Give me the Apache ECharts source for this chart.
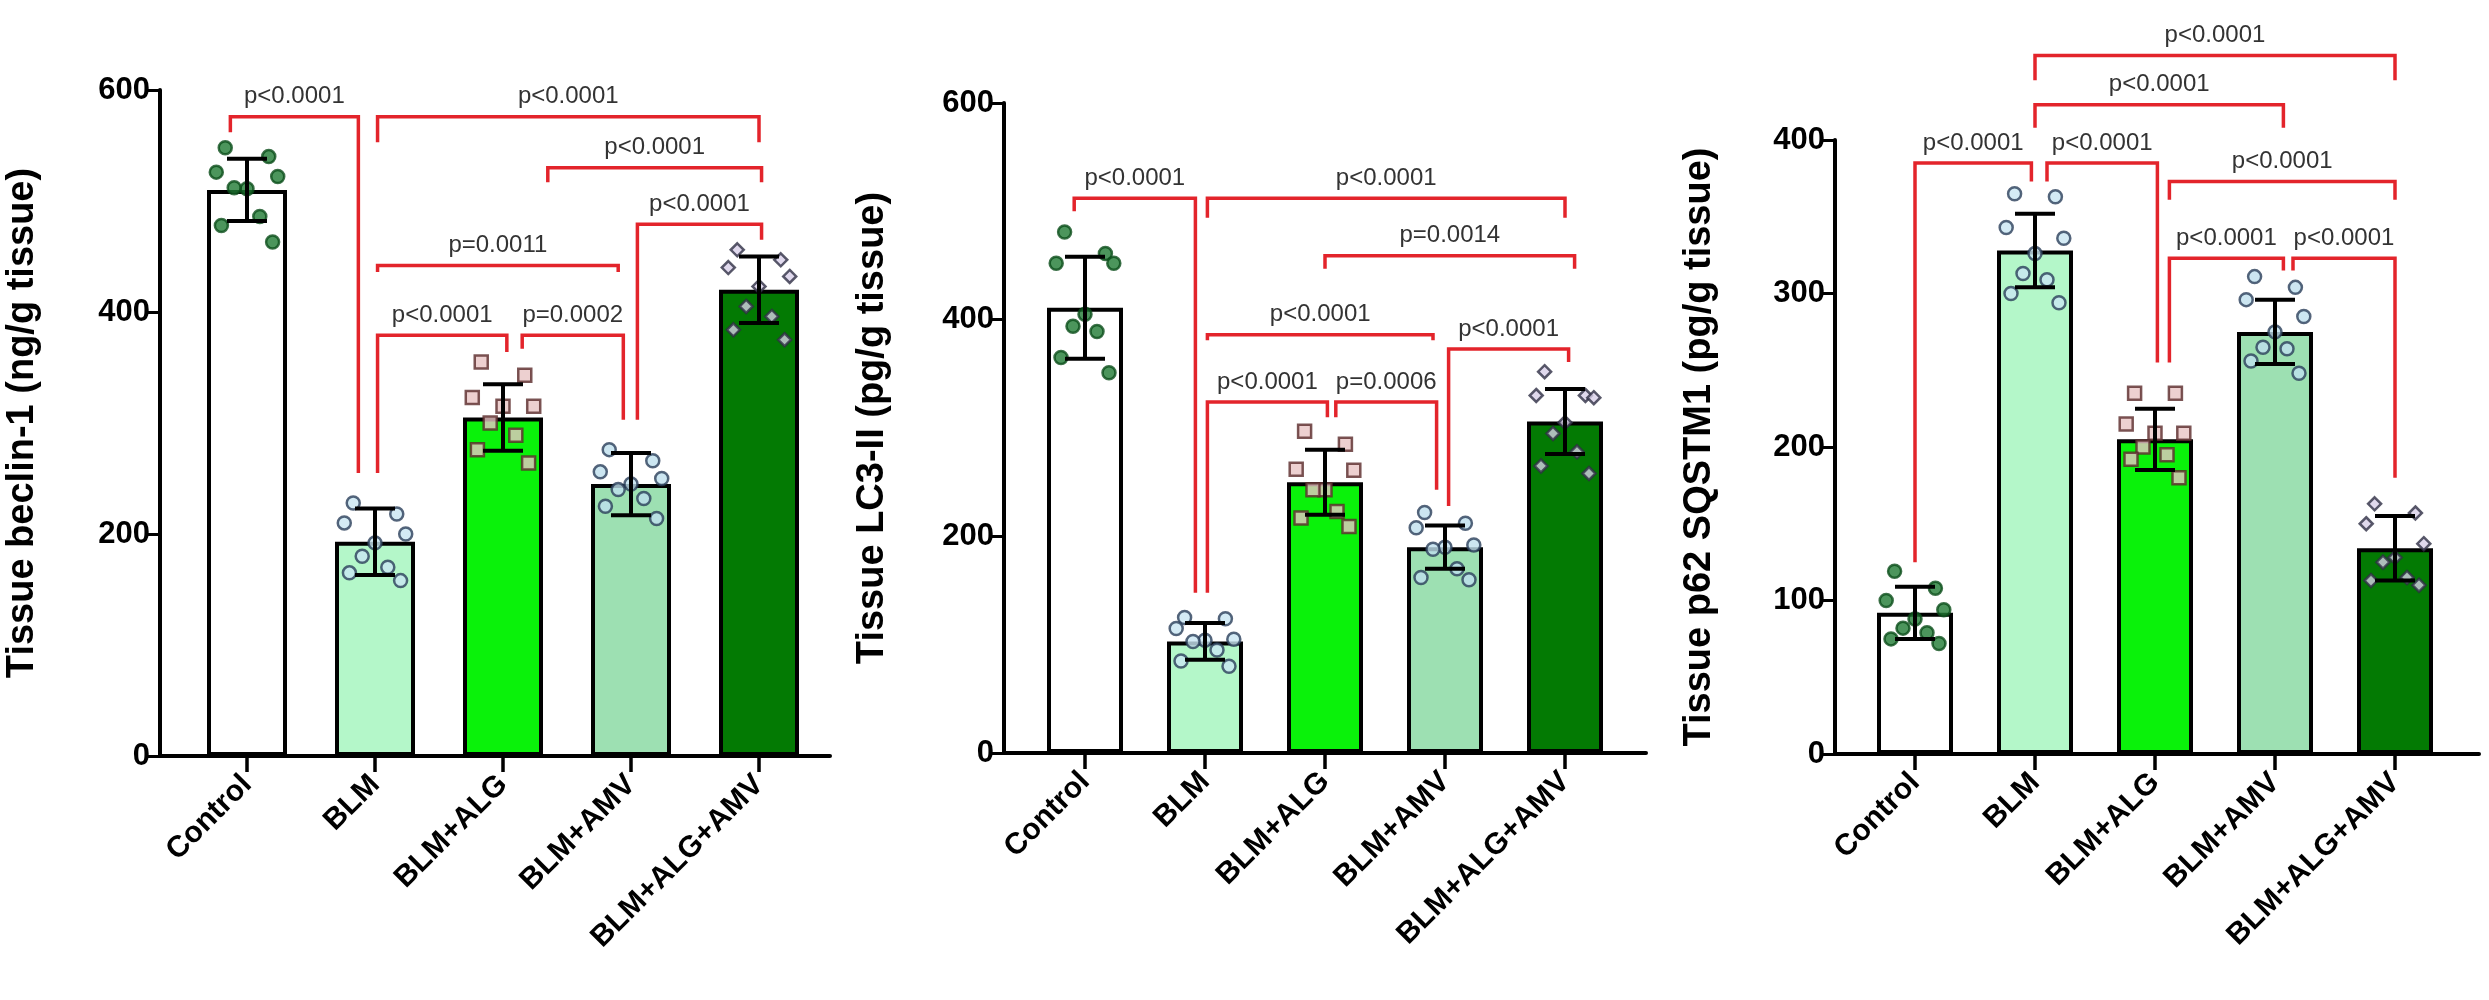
<!DOCTYPE html>
<html lang="en">
<head>
<meta charset="UTF-8">
<title>Autophagy markers</title>
<script src="https://cdn.jsdelivr.net/npm/echarts@6/dist/echarts.min.js"></script>
<style>html,body{margin:0;background:#fff}</style>
</head>
<body>
<div id="chart" style="width:2489px;height:1000px;"></div>
<script type="text/javascript">
// groups
var groups = ['Control', 'BLM', 'BLM+ALG', 'BLM+AMV', 'BLM+ALG+AMV'];

// beclin-1 (ng/g tissue)
var beclinMean = [510, 193, 305, 245, 420];
var beclinSd = [28, 30, 30, 28, 30];
var beclinPts = [
  [548, 540, 526, 522, 511, 512, 486, 478, 463],
  [228, 218, 210, 200, 192, 180, 170, 165, 158],
  [355, 343, 323, 315, 315, 300, 289, 276, 264],
  [276, 266, 256, 250, 245, 240, 232, 225, 214],
  [456, 447, 440, 432, 423, 405, 396, 384, 375]
];
// [from, to, top, leftLeg, rightLeg]
var beclinBr = [
  [-0.13, 0.87, 576, 562, 255],
  [1.02, 4.0, 576, 553, 553],
  [2.35, 4.02, 530, 517, 517],
  [3.05, 4.02, 479, 303, 465],
  [1.02, 2.9, 442, 436, 436],
  [1.02, 2.03, 379, 255, 364],
  [2.15, 2.94, 379, 367, 303]
];
var beclinP = ['p<0.0001', 'p<0.0001', 'p<0.0001', 'p<0.0001', 'p=0.0011', 'p<0.0001', 'p=0.0002'];

// LC3-II (pg/g tissue)
var lc3Mean = [411, 103, 250, 190, 306];
var lc3Sd = [47, 17, 30, 20, 30];
var lc3Pts = [
  [481, 461, 452, 452, 405, 394, 389, 365, 351],
  [125, 124, 115, 105, 104, 103, 95, 85, 80],
  [297, 285, 262, 261, 243, 243, 223, 217, 209],
  [222, 212, 208, 192, 190, 188, 170, 162, 160],
  [352, 330, 330, 328, 305, 295, 278, 265, 258]
];
var lc3Br = [
  [-0.09, 0.92, 512, 500, 148],
  [1.02, 4.0, 512, 494, 494],
  [2.0, 4.08, 459, 447, 447],
  [1.02, 2.9, 386, 381, 381],
  [3.03, 4.03, 373, 228, 361],
  [1.02, 2.02, 324, 148, 310],
  [2.09, 2.93, 324, 310, 243]
];
var lc3P = ['p<0.0001', 'p<0.0001', 'p=0.0014', 'p<0.0001', 'p<0.0001', 'p<0.0001', 'p=0.0006'];

// p62 SQSTM1 (pg/g tissue)
var p62Mean = [92, 328, 205, 275, 134];
var p62Sd = [17, 24, 20, 21, 21];
var p62Pts = [
  [119, 108, 100, 94, 88, 82, 79, 75, 72],
  [365, 363, 343, 336, 326, 313, 309, 300, 294],
  [235, 235, 215, 209, 209, 200, 195, 192, 180],
  [311, 304, 296, 285, 275, 265, 264, 256, 248],
  [163, 157, 150, 137, 128, 125, 115, 113, 110]
];
var p62Br = [
  [1.0, 4.0, 455, 439, 439],
  [1.0, 3.07, 423, 408, 408],
  [0.0, 0.97, 385, 125, 373],
  [1.1, 2.02, 385, 373, 255],
  [2.12, 4.0, 373, 361, 361],
  [2.12, 3.07, 323, 255, 315],
  [3.15, 4.0, 323, 315, 180]
];
var p62P = ['p<0.0001', 'p<0.0001', 'p<0.0001', 'p<0.0001', 'p<0.0001', 'p<0.0001', 'p<0.0001'];

var barColors = ['#ffffff', '#b4f7c9', '#0af20a', '#9de0b2', '#037a03'];
var ptStyle = [
  {symbol: 'circle', fill: '#1f7a33', border: '#0b4d1a'},
  {symbol: 'circle', fill: '#c9e6f2', border: '#2b3f5a'},
  {symbol: 'rect', fill: '#e9c4c4', border: '#5a2a2a'},
  {symbol: 'circle', fill: '#bfe0ee', border: '#2b3f5a'},
  {symbol: 'diamond', fill: '#d8d0e8', border: '#2f2f45'}
];
var jitter = [-0.17, 0.17, -0.24, 0.24, 0, -0.1, 0.1, -0.2, 0.2];

var panels = [
  {title: 'Tissue beclin-1 (ng/g tissue)', mean: beclinMean, sd: beclinSd, pts: beclinPts, br: beclinBr, p: beclinP,
   axisX: 160, end: 830, top: 90, bot: 756, band: 183, bandW: 640, max: 600, step: 200, gap: 118, barW: 80},
  {title: 'Tissue LC3-II (pg/g tissue)', mean: lc3Mean, sd: lc3Sd, pts: lc3Pts, br: lc3Br, p: lc3P,
   axisX: 1004, end: 1646, top: 103, bot: 753, band: 1025, bandW: 600, max: 600, step: 200, gap: 112, barW: 76},
  {title: 'Tissue p62 SQSTM1 (pg/g tissue)', mean: p62Mean, sd: p62Sd, pts: p62Pts, br: p62Br, p: p62P,
   axisX: 1835, end: 2479, top: 140, bot: 754, band: 1855, bandW: 600, max: 400, step: 100, gap: 116, barW: 76}
];

var H = 1000;
var grid = [], xAxis = [], yAxis = [], series = [];
var boldFont = 'Liberation Sans, Arial, sans-serif';
var narrowFont = 'Liberation Sans Narrow, Liberation Sans, Arial, sans-serif';

panels.forEach(function (c, p) {
  grid.push({left: c.axisX, width: c.end - c.axisX, top: c.top, bottom: H - c.bot});
  grid.push({left: c.band, width: c.bandW, top: c.top, bottom: H - c.bot});
  // outer x line
  xAxis.push({type: 'value', gridIndex: 2 * p, min: 0, max: 1,
    axisLine: {show: true, lineStyle: {color: '#000', width: 4}},
    axisTick: {show: false}, axisLabel: {show: false}, splitLine: {show: false}});
  // category axis
  xAxis.push({type: 'category', gridIndex: 2 * p + 1, data: groups,
    axisLine: {show: false},
    axisTick: {show: true, alignWithLabel: true, length: 16, lineStyle: {color: '#000', width: 3.5}},
    axisLabel: {rotate: 45, fontSize: 30, fontWeight: 'bold', color: '#000', fontFamily: boldFont, margin: 24}});
  // hidden value axis for points / brackets
  xAxis.push({type: 'value', gridIndex: 2 * p + 1, min: -0.5, max: 4.5, show: false});
  yAxis.push({type: 'value', gridIndex: 2 * p, min: 0, max: c.max, interval: c.step,
    name: c.title, nameLocation: 'middle', nameGap: c.gap,
    nameTextStyle: {fontSize: 38, fontWeight: 'bold', color: '#000', fontFamily: boldFont},
    axisLine: {show: true, lineStyle: {color: '#000', width: 4}},
    axisTick: {show: true, length: 12, lineStyle: {color: '#000', width: 3}},
    axisLabel: {fontSize: 31, fontWeight: 'bold', color: '#000', fontFamily: boldFont, margin: 10},
    splitLine: {show: false}});
  yAxis.push({type: 'value', gridIndex: 2 * p + 1, min: 0, max: c.max, show: false});

  var xc = 3 * p + 1, xv = 3 * p + 2, yi = 2 * p + 1;

  series.push({type: 'bar', xAxisIndex: xc, yAxisIndex: yi, barWidth: c.barW, z: 2,
    data: c.mean.map(function (v, i) {
      return {value: v, itemStyle: {color: barColors[i], borderColor: '#000', borderWidth: 4}};
    })});

  c.pts.forEach(function (arr, g) {
    var st = ptStyle[g];
    series.push({type: 'scatter', xAxisIndex: xv, yAxisIndex: yi, z: 4,
      symbol: st.symbol, symbolSize: 13,
      itemStyle: {color: st.fill, borderColor: st.border, borderWidth: 2.5},
      data: arr.map(function (v, k) { return [g + jitter[k], v]; })});
  });

  // error bars
  series.push({type: 'custom', xAxisIndex: xv, yAxisIndex: yi, z: 5,
    data: c.mean.map(function (m, i) { return [i, m, c.sd[i]]; }),
    renderItem: function (params, api) {
      var i = api.value(0), m = api.value(1), s = api.value(2);
      var hi = api.coord([i, m + s]), lo = api.coord([i, m - s]);
      var w = 20, st = {stroke: '#000', lineWidth: 4};
      return {type: 'group', children: [
        {type: 'line', shape: {x1: hi[0], y1: hi[1], x2: lo[0], y2: lo[1]}, style: st},
        {type: 'line', shape: {x1: hi[0] - w, y1: hi[1], x2: hi[0] + w, y2: hi[1]}, style: st},
        {type: 'line', shape: {x1: lo[0] - w, y1: lo[1], x2: lo[0] + w, y2: lo[1]}, style: st}
      ]};
    }});

  // significance brackets
  var labels = c.p;
  series.push({type: 'custom', xAxisIndex: xv, yAxisIndex: yi, z: 6, clip: false,
    data: c.br,
    renderItem: function (params, api) {
      var a = api.coord([api.value(0), api.value(2)]);
      var b = api.coord([api.value(1), api.value(2)]);
      var la = api.coord([api.value(0), api.value(3)]);
      var lb = api.coord([api.value(1), api.value(4)]);
      var st = {stroke: '#e3242b', lineWidth: 3.5, fill: null};
      return {type: 'group', children: [
        {type: 'polyline', shape: {points: [[la[0], la[1]], a, b, [lb[0], lb[1]]]}, style: st},
        {type: 'text', style: {text: labels[params.dataIndex], x: (a[0] + b[0]) / 2, y: a[1] - 8,
          align: 'center', verticalAlign: 'bottom', fontSize: 24, fill: '#333', fontFamily: narrowFont}}
      ]};
    }});
});

var myChart = echarts.init(document.getElementById('chart'));
myChart.setOption({animation: false, grid: grid, xAxis: xAxis, yAxis: yAxis, series: series});
</script>
</body>
</html>
